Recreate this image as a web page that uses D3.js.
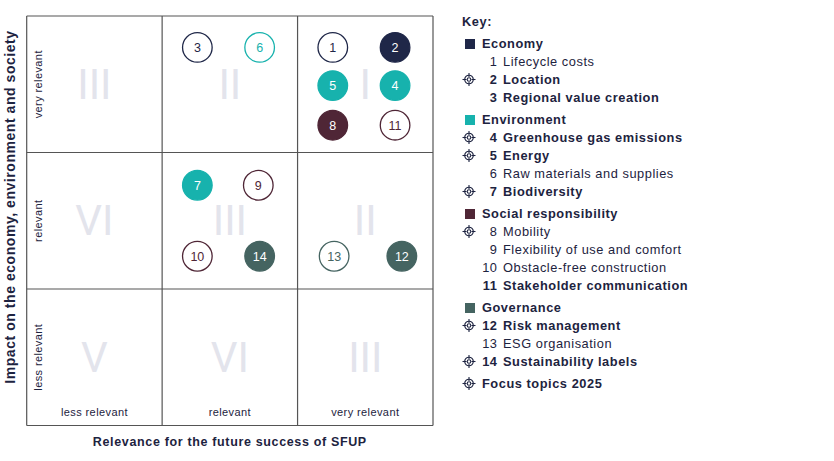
<!DOCTYPE html>
<html>
<head>
<meta charset="utf-8">
<script src="https://cdn.jsdelivr.net/npm/d3@7"></script>
<style>
  body { margin: 0; background: #fff; }
  svg { font-family: "Liberation Sans", Arial, sans-serif; }
</style>
</head>
<body>
<div id="matrix"></div>
<script>
// --- data ---
const levels = ["less relevant", "relevant", "very relevant"];
// roman numerals per cell, rows from top (very relevant) to bottom (less relevant)
const romanRows = [
  ["III", "II", "I"],
  ["VI", "III", "II"],
  ["V", "VI", "III"]
];
const groups = ["Economy", "Environment", "Social responsibility", "Governance"];
const groupColors = ["#1f2748", "#17b2ad", "#4f2636", "#456461"];

const topicIds = [1, 2, 3, 4, 5, 6, 7, 8, 9, 10, 11, 12, 13, 14];
const topicNames = ["Lifecycle costs", "Location", "Regional value creation",
  "Greenhouse gas emissions", "Energy", "Raw materials and supplies", "Biodiversity",
  "Mobility", "Flexibility of use and comfort", "Obstacle-free construction",
  "Stakeholder communication", "Risk management", "ESG organisation", "Sustainability labels"];
const topicGroup = [0, 0, 0, 1, 1, 1, 1, 2, 2, 2, 2, 3, 3, 3];
// position on the 0..3 relevance scales (x: future success, y: impact)
const topicX = [2.26, 2.72, 1.26, 2.72, 2.26, 1.72, 1.26, 2.26, 1.71, 1.26, 2.72, 2.77, 2.27, 1.72];
const topicY = [2.77, 2.77, 2.77, 2.49, 2.49, 2.77, 1.76, 2.20, 1.76, 1.24, 2.20, 1.24, 1.24, 1.24];
const focusTopic = [false, true, false, true, true, false, true, true, false, false, false, true, false, true];
const boldTopic = [false, true, true, true, true, false, true, false, false, false, true, true, false, true];

const width = 834, height = 461;
const grid = {left: 26.7, right: 433, top: 16, bottom: 425.5};
const textColor = "#1d2340";

const svg = d3.select("#matrix").append("svg")
  .attr("width", width).attr("height", height);

const x = d3.scaleLinear().domain([0, 3]).range([grid.left, grid.right]);
const y = d3.scaleLinear().domain([0, 3]).range([grid.bottom, grid.top]);

// roman numerals in the background
const romanG = svg.append("g");
romanRows.forEach((row, ri) => {
  row.forEach((r, ci) => {
    romanG.append("text")
      .attr("x", x(ci + 0.5))
      .attr("y", y(2.5 - ri) + 14.5)
      .attr("text-anchor", "middle")
      .style("font-family", "Roboto, 'Liberation Sans', sans-serif")
      .style("font-weight", 400)
      .style("font-size", "42px")
      .style("fill", "#e3e4ec")
      .text(r);
  });
});

// grid lines
const gridG = svg.append("g").attr("stroke", "#555").attr("stroke-width", 1.2);
d3.range(4).forEach(i => {
  gridG.append("line").attr("x1", x(i)).attr("x2", x(i)).attr("y1", y(0)).attr("y2", y(3));
  gridG.append("line").attr("x1", x(0)).attr("x2", x(3)).attr("y1", y(i)).attr("y2", y(i));
});

// level labels
svg.append("g").selectAll("text").data(levels).join("text")
  .attr("x", (d, i) => x(i + 0.5))
  .attr("y", y(0) - 9.5)
  .attr("text-anchor", "middle")
  .style("font-size", "11px")
  .style("letter-spacing", "0.4px")
  .style("fill", textColor)
  .text(d => d);

svg.append("g").selectAll("text").data(levels).join("text")
  .attr("transform", (d, i) => `translate(${x(0) + 15.5},${y(i + 0.5)}) rotate(-90)`)
  .attr("text-anchor", "middle")
  .style("font-size", "11px")
  .style("letter-spacing", "0.4px")
  .style("fill", textColor)
  .text(d => d);

// axis titles
svg.append("text")
  .attr("x", (x(0) + x(3)) / 2)
  .attr("y", 446)
  .attr("text-anchor", "middle")
  .style("font-size", "12.5px")
  .style("letter-spacing", "0.65px")
  .style("font-weight", "bold")
  .style("fill", textColor)
  .text("Relevance for the future success of SFUP");

svg.append("text")
  .attr("transform", `translate(15,207) rotate(-90)`)
  .attr("text-anchor", "middle")
  .style("font-size", "14px")
  .style("letter-spacing", "0.55px")
  .style("font-weight", "bold")
  .style("fill", textColor)
  .text("Impact on the economy, environment and society");

// topic bubbles
const bubbles = svg.append("g").selectAll("g").data(topicIds).join("g")
  .attr("transform", (d, i) => `translate(${x(topicX[i])},${y(topicY[i])})`);

bubbles.append("circle")
  .attr("r", 14.8)
  .attr("fill", (d, i) => focusTopic[i] ? groupColors[topicGroup[i]] : "#fff")
  .attr("stroke", (d, i) => groupColors[topicGroup[i]])
  .attr("stroke-width", 1.3);

bubbles.append("text")
  .attr("text-anchor", "middle")
  .attr("dy", "0.36em")
  .style("font-size", "12.5px")
  .style("fill", (d, i) => focusTopic[i] ? "#fff" : groupColors[topicGroup[i]])
  .text(d => d);

// legend
const legend = svg.append("g")
  .style("font-size", "12.8px")
  .style("letter-spacing", "0.55px")
  .style("fill", textColor);
const lx = 465;
function target(g, cx, cy) {
  const t = g.append("g").attr("transform", `translate(${cx},${cy})`)
    .attr("fill", "none").attr("stroke", textColor).attr("stroke-width", 1.1);
  t.append("circle").attr("r", 4.3);
  t.append("circle").attr("r", 1.8);
  [[0, -6.5, 0, -2.5], [0, 2.5, 0, 6.5], [-6.5, 0, -2.5, 0], [2.5, 0, 6.5, 0]]
    .forEach(p => t.append("line").attr("x1", p[0]).attr("y1", p[1]).attr("x2", p[2]).attr("y2", p[3]));
}

legend.append("text")
  .attr("x", lx - 3).attr("y", 26)
  .style("font-weight", "bold")
  .text("Key:");

let ly = 48;
groups.forEach((gname, gi) => {
  legend.append("rect")
    .attr("x", lx).attr("y", ly - 9).attr("width", 10).attr("height", 10)
    .attr("fill", groupColors[gi]);
  legend.append("text")
    .attr("x", lx + 17).attr("y", ly)
    .style("font-weight", "bold")
    .text(gname);
  ly += 18;
  topicIds.forEach((id, i) => {
    if (topicGroup[i] !== gi) return;
    const w = boldTopic[i] ? "bold" : "normal";
    legend.append("text")
      .attr("x", 497.5).attr("y", ly).attr("text-anchor", "end")
      .style("font-weight", w)
      .text(id);
    legend.append("text")
      .attr("x", 503).attr("y", ly)
      .style("font-weight", w)
      .text(topicNames[i]);
    if (focusTopic[i]) target(legend, 469, ly - 4.5);
    ly += 18;
  });
  ly += 4;
});
target(legend, 469, ly - 4.5);
legend.append("text")
  .attr("x", lx + 17).attr("y", ly)
  .style("font-weight", "bold")
  .text("Focus topics 2025");
</script>
</body>
</html>
